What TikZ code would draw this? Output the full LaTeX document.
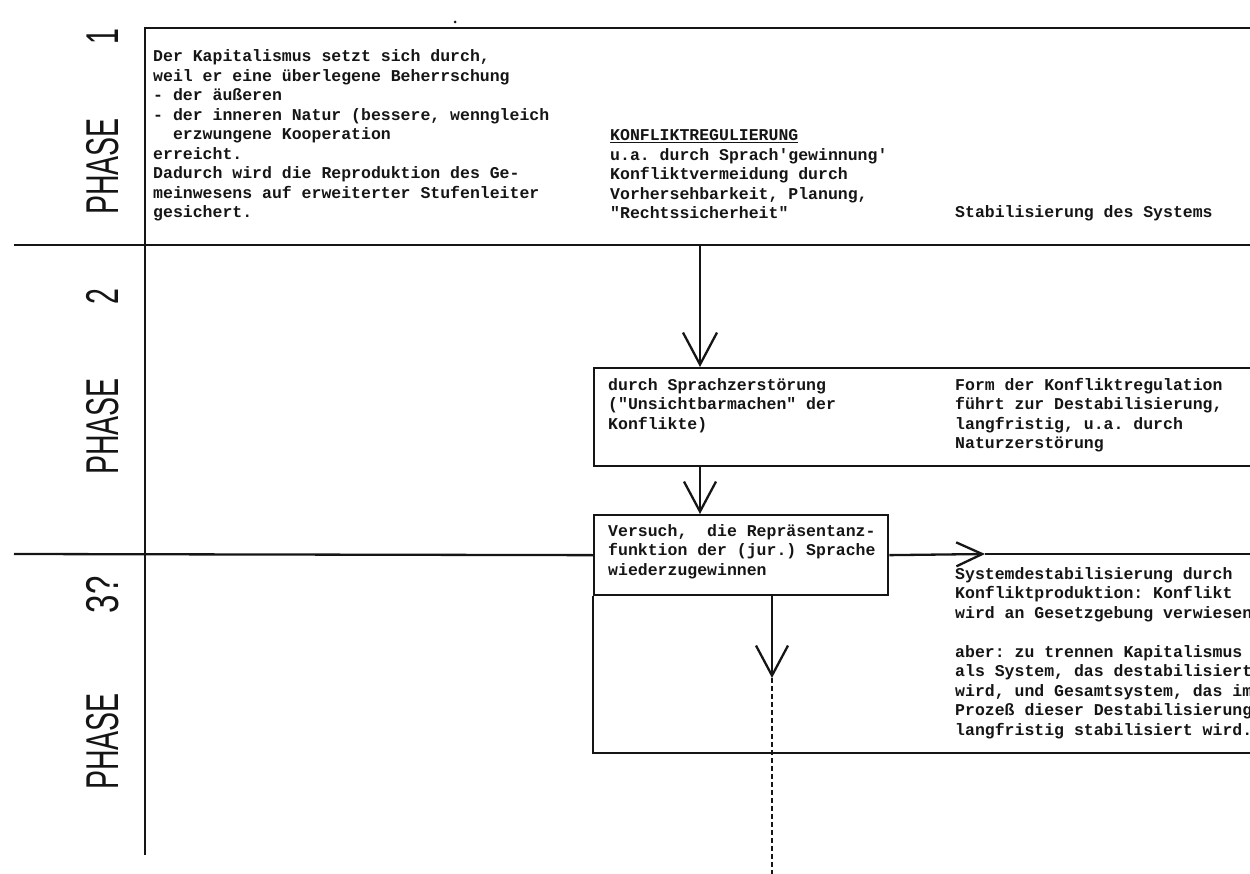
\documentclass[tikz,border=0pt]{standalone}
\usepackage{fontspec}
\newfontfamily\typew{Liberation Mono}
\newfontfamily\phfont{Liberation Sans}
\usetikzlibrary{arrows.meta}
\definecolor{ink}{HTML}{151515}
\begin{document}
\begin{tikzpicture}[x=1pt,y=-1pt,
  ln/.style={line width=2.3pt, draw=ink},
  boxnode/.style={draw=ink, line width=2.3pt, anchor=north west, inner sep=0pt},
  txt/.style={anchor=base west, inner sep=0pt, align=left, text=ink,
    font=\typew\bfseries\fontsize{16.5}{19.5}\selectfont\frenchspacing},
  phase/.style={rotate=90, anchor=base west, inner sep=0pt, text=ink,
    font=\phfont\fontsize{46}{46}\selectfont},
  bigtip/.style={-{Straight Barb[length=32pt,width=34pt]}},
  midtip/.style={-{Straight Barb[length=30pt,width=32pt]}},
  smalltip/.style={-{Straight Barb[length=26pt,width=24pt]}}
]
\useasboundingbox (0,0) rectangle (1250,874);
\clip (0,0) rectangle (1250,874);

% frame
\coordinate (tl) at (145,28);
\coordinate (tr) at (1260,28);
\coordinate (bl) at (145,855);
\coordinate (s1l) at (14,245);
\coordinate (s1r) at (1260,245);
\coordinate (s2l) at (14,554);
\draw[ln] (tr) -- (tl) -- (bl);
\draw[ln] (s1l) -- (s1r);
\fill[ink] (455,22) circle (1.5pt);

% phase labels
\node[phase] (p1) at (118,215) {\scalebox{0.62}[1]{PHASE}\hspace{74pt}\scalebox{0.62}[1]{1}};
\node[phase] (p2) at (118,475) {\scalebox{0.62}[1]{PHASE}\hspace{74pt}\scalebox{0.62}[1]{2}};
\node[phase] (p3) at (118,790) {\scalebox{0.62}[1]{PHASE}\hspace{80pt}\scalebox{0.72}[1]{3?}};

% boxes
\node[boxnode, minimum width=667pt, minimum height=98pt] (b2) at (593,367) {};
\node[boxnode, minimum width=294pt, minimum height=80pt] (b3) at (593,514) {};
\coordinate (b3bot) at (593,753);
\coordinate (b3r) at (1260,753);
\draw[ln] (b3.south west) -- (b3bot) -- (b3r);

% connectors
\coordinate (a1s) at (700,245);
\draw[ln, bigtip] (a1s) -- (a1s |- b2.north);
\draw[ln, midtip] (a1s |- b2.south) -- (a1s |- b3.north);
\draw[ln] (s2l) -- (b3.west);
\coordinate (a3m) at (985,554);
\coordinate (a3e) at (1260,554);
\draw[ln, smalltip] (b3.east) -- (a3m);
\draw[ln] (a3m) -- (a3e);
\coordinate (a4m) at (772,678);
\coordinate (a4e) at (772,874);
\draw[ln, midtip] (a4m |- b3.south) -- (a4m);
\draw[ln, line width=2pt, dash pattern=on 5pt off 3pt] (a4m) -- (a4e);

% texts (anchored at the baseline of their last line)
\node[txt] (t1) at (153,218) {Der Kapitalismus setzt sich durch,\\weil er eine überlegene Beherrschung\\- der äußeren\\- der inneren Natur (bessere, wenngleich\\\phantom{xx}erzwungene Kooperation\\erreicht.\\Dadurch wird die Reproduktion des Ge-\\meinwesens auf erweiterter Stufenleiter\\gesichert.};
\node[txt] (t2) at (610,219) {\underline{KONFLIKTREGULIERUNG}\\u.a. durch Sprach'gewinnung'\\Konfliktvermeidung durch\\Vorhersehbarkeit, Planung,\\"Rechtssicherheit"};
\node[txt] (t3) at (955,218) {Stabilisierung des Systems};
\node[txt] (t4) at (608,429) {durch Sprachzerstörung\\("Unsichtbarmachen" der\\Konflikte)};
\node[txt] (t5) at (955,448.5) {Form der Konfliktregulation\\führt zur Destabilisierung,\\langfristig, u.a. durch\\Naturzerstörung};
\node[txt] (t6) at (608,575) {Versuch,~~die Repräsentanz-\\funktion der (jur.) Sprache\\wiederzugewinnen};
\node[txt] (t7) at (955,735) {Systemdestabilisierung durch\\Konfliktproduktion: Konflikt\\wird an Gesetzgebung verwiesen\\[19.5pt]aber: zu trennen Kapitalismus\\als System, das destabilisiert\\wird, und Gesamtsystem, das im\\Prozeß dieser Destabilisierung\\langfristig stabilisiert wird.};
\end{tikzpicture}
\end{document}
